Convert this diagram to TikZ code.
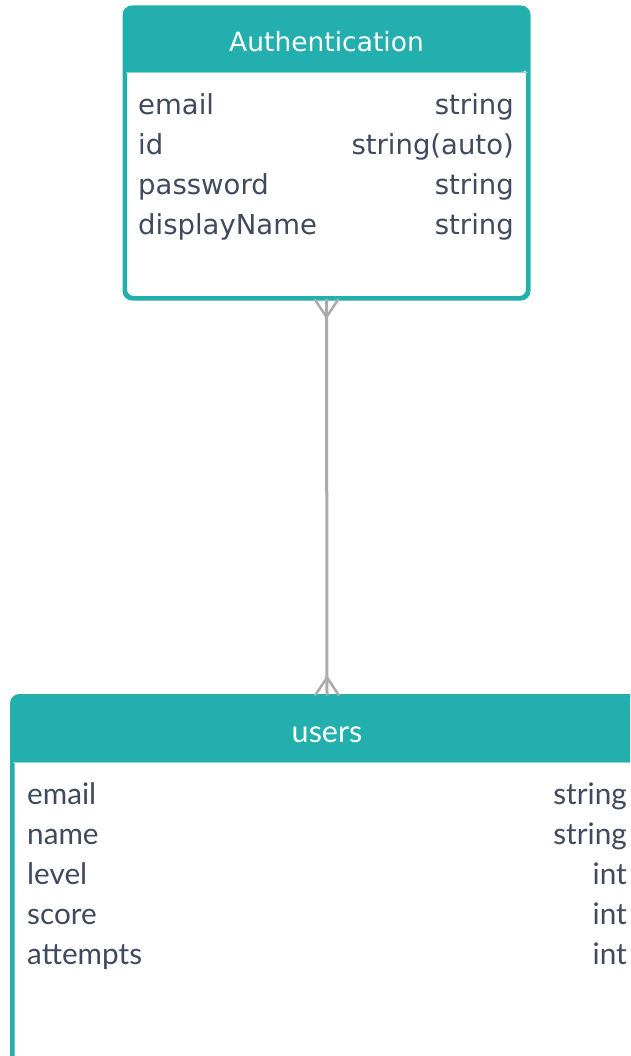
\documentclass[tikz,border=0pt]{standalone}
\usepackage{fontspec}
\newfontfamily\authfont{DejaVu Sans}
\newfontfamily\usersfont{Lato}
\definecolor{tealhd}{HTML}{23AFAD}
\definecolor{tealsep}{HTML}{8ED6D3}
\definecolor{rowtxt}{HTML}{3F4A5E}
\definecolor{linkgray}{HTML}{ABABAB}
\tikzset{
  entity/.style={draw=tealhd, line width=3pt, fill=white, rounded corners=8pt, inner sep=0pt},
  hdrtext/.style={text=white, inner sep=0pt},
  attr/.style={text=rowtxt, inner sep=0pt},
  link/.style={draw=linkgray, line width=3pt},
  crow/.style={draw=linkgray, line width=2.5pt},
  sepline/.style={draw=tealsep, line width=1pt}
}
\begin{document}
\begin{tikzpicture}[x=1pt,y=-1pt]
\useasboundingbox (0,0) rectangle (630,1056);
\clip (0,0) rectangle (630,1056);
% Authentication entity
\node[entity, minimum width=402pt, minimum height=289pt] (auth) at (326.5,153) {};
\fill[tealhd] (auth.west |- 0,72) [rounded corners=8pt] |- (auth.north) -| (auth.east |- 0,72) [sharp corners] -- cycle;
\draw[sepline] ([xshift=1.5pt]auth.west |- 0,72.5) -- ([xshift=-1.5pt]auth.east |- 0,72.5);
\draw[tealhd, line width=3pt, rounded corners=8pt] (auth.north west) rectangle (auth.south east);
\node[hdrtext, anchor=base, font=\authfont\fontsize{26.5}{30}\selectfont] (authtitle) at (326.5,52) {Authentication};
\begin{scope}[font=\authfont\fontsize{27.5}{30}\selectfont]
\node[attr, anchor=base west] (a1) at (138,114.5) {email};
\node[attr, anchor=base east] (a1t) at (514,114.5) {string};
\node[attr, anchor=base west] (a2) at (138,154.5) {id};
\node[attr, anchor=base east] (a2t) at (514,154.5) {string(auto)};
\node[attr, anchor=base west] (a3) at (138,194.5) {password};
\node[attr, anchor=base east] (a3t) at (514,194.5) {string};
\node[attr, anchor=base west] (a4) at (138,234.5) {displayName};
\node[attr, anchor=base east] (a4t) at (514,234.5) {string};
\end{scope}
% users entity
\node[entity, minimum width=628pt, minimum height=400pt] (users) at (327,897) {};
\fill[tealhd] (users.west |- 0,762) [rounded corners=8pt] |- (users.north) -| (users.east |- 0,762) [sharp corners] -- cycle;
\draw[sepline] ([xshift=1.5pt]users.west |- 0,762.5) -- ([xshift=-1.5pt]users.east |- 0,762.5);
\draw[tealhd, line width=3pt, rounded corners=8pt] (users.north west) rectangle (users.south east);
\node[hdrtext, anchor=base, font=\usersfont\fontsize{30.5}{34}\selectfont] (userstitle) at (327,742) {users};
\begin{scope}[font=\usersfont\fontsize{29.7}{34}\selectfont]
\node[attr, anchor=base west] (u1) at (27,804) {email};
\node[attr, anchor=base east] (u1t) at (627,804) {string};
\node[attr, anchor=base west] (u2) at (27,844) {name};
\node[attr, anchor=base east] (u2t) at (627,844) {string};
\node[attr, anchor=base west] (u3) at (27,884) {level};
\node[attr, anchor=base east] (u3t) at (627,884) {int};
\node[attr, anchor=base west] (u4) at (27,924) {score};
\node[attr, anchor=base east] (u4t) at (627,924) {int};
\node[attr, anchor=base west] (u5) at (27,964) {attempts};
\node[attr, anchor=base east] (u5t) at (627,964) {int};
\end{scope}
% relationship
\coordinate (topc) at ([yshift=-18pt]auth.south);
\coordinate (botc) at ([yshift=18pt]users.north);
\draw[link] (auth.south) -- (users.north);
\draw[crow] ([xshift=-12pt]auth.south) -- (topc) -- ([xshift=12pt]auth.south);
\draw[crow] ([xshift=-12pt]users.north) -- (botc) -- ([xshift=12pt]users.north);
\end{tikzpicture}
\end{document}
